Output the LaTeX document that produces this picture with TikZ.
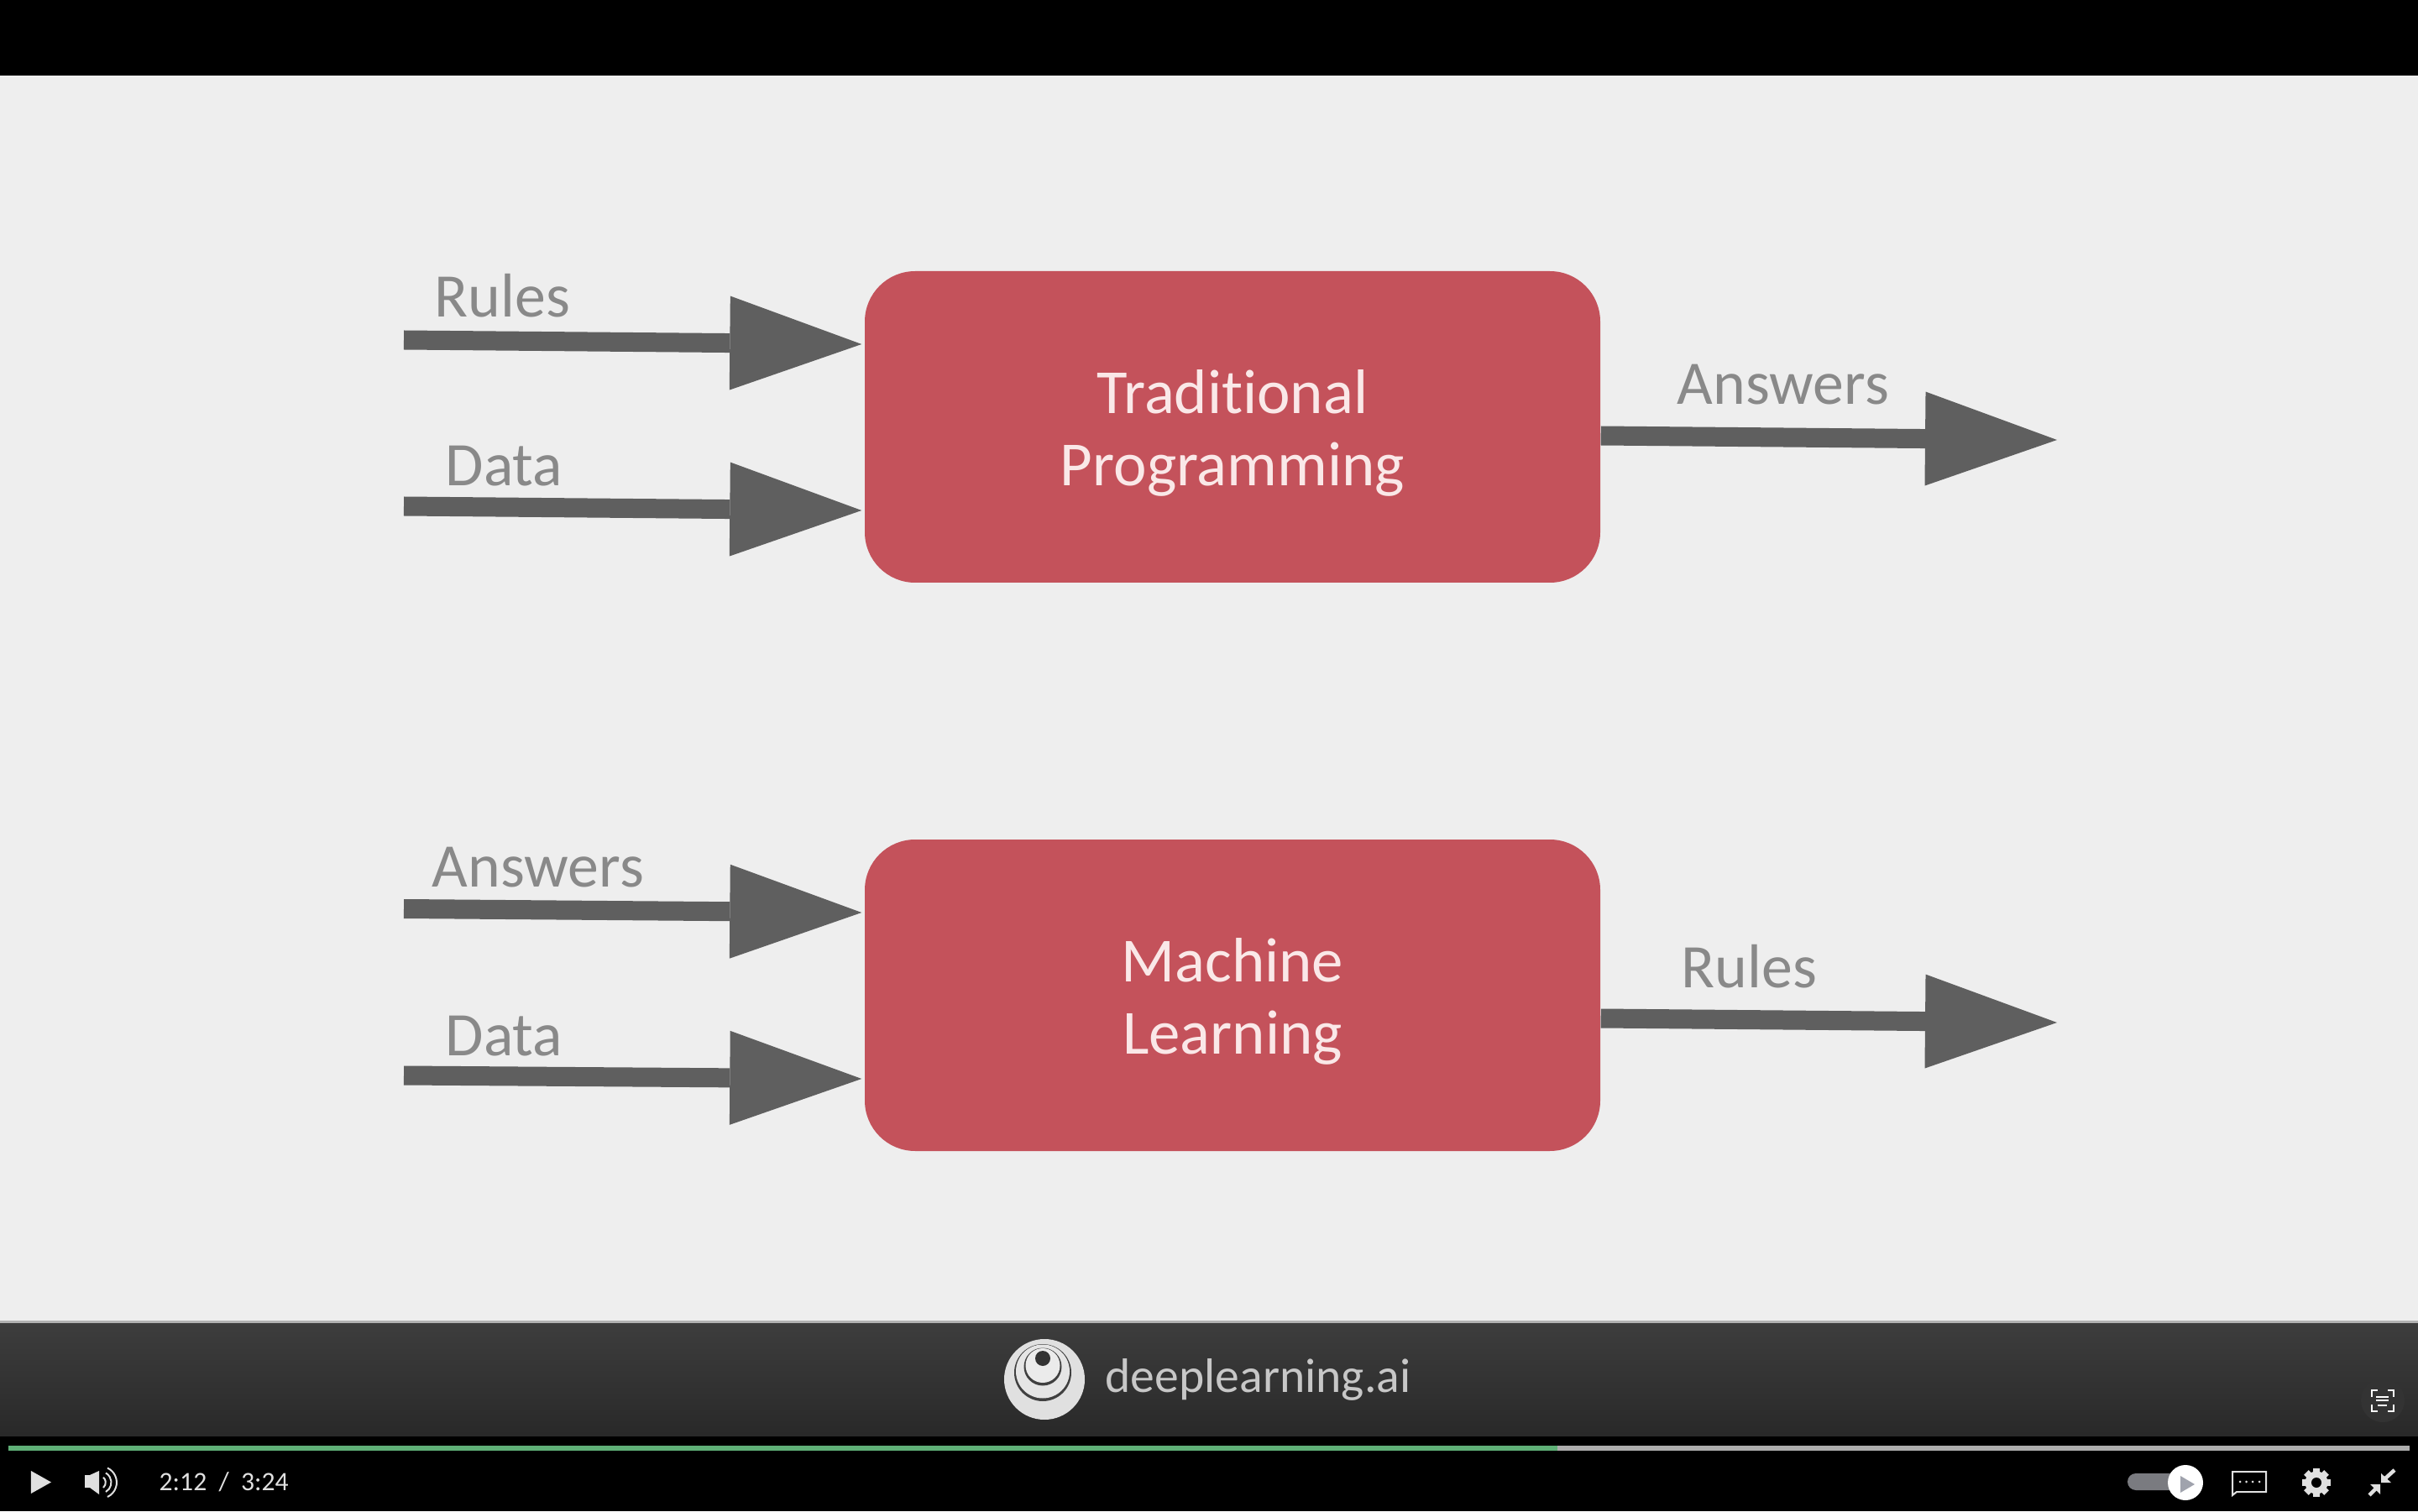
\documentclass[tikz,border=0pt]{standalone}
\usepackage{fontspec}
\setmainfont[Ligatures=NoCommon]{Carlito}
\usetikzlibrary{arrows.meta,calc}
\definecolor{slidebg}{HTML}{EEEEEE}
\definecolor{boxred}{HTML}{C4525B}
\definecolor{arrowgrey}{HTML}{5F5F5F}
\definecolor{labelgrey}{HTML}{898989}
\definecolor{boxtext}{HTML}{FAE8E8}
\definecolor{icongrey}{HTML}{E0E0E0}
\definecolor{progressgreen}{HTML}{5FB077}
\definecolor{togglegrey}{HTML}{7A7B80}
\definecolor{playgrey}{HTML}{A0A3AD}
\newcommand{\boxstrut}{\rule{0pt}{0.67cm}}
\tikzset{
	flowbox/.style={fill=boxred, rounded corners=0.6cm, minimum width=8.76cm, minimum height=3.71cm, align=center, text=boxtext, font=\fontsize{21.3}{24.4}\selectfont},
	flowarrow/.style={draw=arrowgrey, line width=0.23cm, -{Triangle[length=1.57cm,width=1.12cm,line width=0pt]}},
	flowlabel/.style={text=labelgrey, anchor=base west, inner sep=0pt, font=\fontsize{21}{24}\selectfont},
}
\begin{document}
\begin{tikzpicture}
	\useasboundingbox (0, 0) rectangle (28.8, 18);
	\fill[black] (0, 0) rectangle (28.8, 18);
	\fill[slidebg] (0, 2.25) rectangle (28.8, 17.1);
	\shade[top color=black!76, bottom color=black!84] (0, 0.9) rectangle (28.8, 2.25);
	\draw[black!30, line width=0.03cm] (0, 2.26) -- (28.8, 2.26);

	\node[flowbox] (tradbox) at (14.68, 12.915) {\boxstrut Traditional\\Programming};
	\node[flowbox] (mlbox) at (14.68, 6.145) {\boxstrut Machine\\Learning};

	\coordinate (rulesin) at (4.81, 13.95);
	\coordinate (datain) at (4.81, 11.97);
	\coordinate (answersout) at (24.5, 12.76);
	\coordinate (answersin) at (4.81, 7.175);
	\coordinate (mldatain) at (4.81, 5.19);
	\coordinate (rulesout) at (24.5, 5.82);

	\draw[flowarrow] (rulesin) -- ($(tradbox.west)+(-0.03, 0.985)$);
	\draw[flowarrow] (datain) -- ($(tradbox.west)+(-0.03, -0.995)$);
	\draw[flowarrow] ($(tradbox.east)+(0, -0.105)$) -- (answersout);
	\draw[flowarrow] (answersin) -- ($(mlbox.west)+(-0.03, 0.985)$);
	\draw[flowarrow] (mldatain) -- ($(mlbox.west)+(-0.03, -0.995)$);
	\draw[flowarrow] ($(mlbox.east)+(0, -0.275)$) -- (rulesout);

	\node[flowlabel] (ruleslabel) at (5.17, 14.22) {Rules};
	\node[flowlabel] (datalabel) at (5.30, 12.21) {Data};
	\node[flowlabel] (answerslabel) at (19.97, 13.18) {Answers};
	\node[flowlabel] (mlanswerslabel) at (5.14, 7.44) {Answers};
	\node[flowlabel] (mldatalabel) at (5.30, 5.43) {Data};
	\node[flowlabel] (mlruleslabel) at (20.02, 6.24) {Rules};

	\fill[black!12] (12.44, 1.57) circle (0.48);
	\fill[black!75] (12.42, 1.65) circle (0.34);
	\fill[black!10] (12.42, 1.665) circle (0.32);
	\fill[black!75] (12.42, 1.72) circle (0.225);
	\fill[black!8] (12.42, 1.735) circle (0.205);
	\fill[black!80] (12.42, 1.82) circle (0.09);
	\node[anchor=base west, inner sep=0pt, text=black!22, font=\fontsize{16.4}{20}\selectfont] (logotext) at (13.16, 1.42) {deeplearning.ai};

	\fill[black!80] (28.38, 1.32) circle (0.26);
	\draw[white, line width=0.02cm] (28.25, 1.36) -- (28.25, 1.44) -- (28.32, 1.44);
	\draw[white, line width=0.02cm] (28.44, 1.44) -- (28.51, 1.44) -- (28.51, 1.36);
	\draw[white, line width=0.02cm] (28.25, 1.27) -- (28.25, 1.19) -- (28.32, 1.19);
	\draw[white, line width=0.02cm] (28.44, 1.19) -- (28.51, 1.19) -- (28.51, 1.27);
	\draw[white, line width=0.02cm] (28.30, 1.36) -- (28.45, 1.36);
	\draw[white, line width=0.02cm] (28.30, 1.32) -- (28.45, 1.32);
	\draw[white, line width=0.02cm] (28.32, 1.26) -- (28.43, 1.26);

	\fill[black!32] (0.1, 0.72) rectangle (28.7, 0.78);
	\fill[progressgreen] (0.1, 0.72) rectangle (18.55, 0.78);

	\fill[icongrey] (0.37, 0.48) -- (0.37, 0.21) -- (0.61, 0.345) -- cycle;
	\fill[icongrey] (1.01, 0.28) -- (1.07, 0.28) -- (1.18, 0.2) -- (1.18, 0.48) -- (1.07, 0.43) -- (1.01, 0.43) -- cycle;
	\draw[icongrey, line width=0.02cm] (1.23, 0.28) arc (-50:50:0.08);
	\draw[icongrey, line width=0.02cm] (1.26, 0.23) arc (-60:60:0.13);
	\draw[icongrey, line width=0.02cm] (1.28, 0.17) arc (-65:65:0.19);
	\node[anchor=base west, inner sep=0pt, text=icongrey, font=\fontsize{9}{10}\selectfont] (timetext) at (1.89, 0.25) {2:12 \ / \ 3:24};

	\fill[togglegrey, rounded corners=0.1cm] (25.34, 0.25) rectangle (26.1, 0.45);
	\fill[white] (26.03, 0.34) circle (0.21);
	\fill[playgrey] (25.97, 0.42) -- (25.97, 0.22) -- (26.14, 0.32) -- cycle;

	\draw[icongrey, line width=0.02cm] (26.59, 0.19) -- (26.59, 0.47) -- (26.99, 0.47) -- (26.99, 0.23) -- (26.64, 0.23) -- cycle;
	\foreach \x in {26.68, 26.755, 26.83, 26.91}
		\fill[icongrey] (\x, 0.35) circle (0.015);

	\foreach \a in {0, 45, ..., 315}
		\fill[icongrey, rotate around={\a:(27.59, 0.34)}] (27.55, 0.34) rectangle (27.63, 0.51);
	\fill[icongrey] (27.59, 0.34) circle (0.135);
	\fill[black] (27.59, 0.34) circle (0.06);

	\fill[icongrey] (28.36, 0.34) -- (28.36, 0.45) -- (28.48, 0.34) -- cycle;
	\draw[icongrey, line width=0.045cm] (28.41, 0.39) -- (28.52, 0.49);
	\fill[icongrey] (28.35, 0.32) -- (28.35, 0.2) -- (28.23, 0.32) -- cycle;
	\draw[icongrey, line width=0.045cm] (28.3, 0.27) -- (28.22, 0.19);
\end{tikzpicture}
\end{document}
